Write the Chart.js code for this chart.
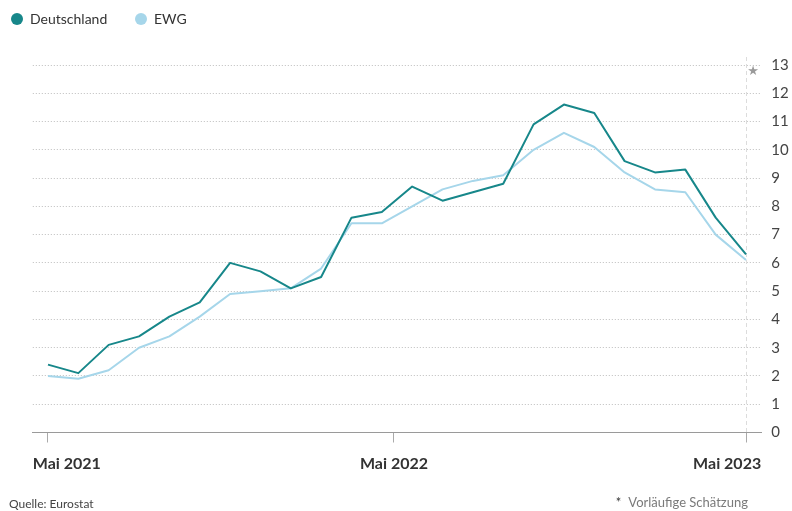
<!DOCTYPE html>
<html><head><meta charset="utf-8">
<script src="https://cdn.jsdelivr.net/npm/chart.js@4/dist/chart.umd.min.js"></script>
<style>
html,body{margin:0;padding:0;background:#fff;}
#wrap{position:relative;width:792px;height:511px;font-family:Lato,"Liberation Sans",sans-serif;overflow:hidden;}
canvas{position:absolute;left:0;top:0;}
.leg{position:absolute;top:12px;height:14px;line-height:14px;font-size:14px;color:#333;display:flex;align-items:center;white-space:nowrap;}
.dot{display:inline-block;width:12px;height:12px;border-radius:50%;margin-right:7px;}
.foot{position:absolute;white-space:nowrap;}
</style></head><body>
<div id="wrap">
<canvas id="c" width="792" height="511"></canvas>
<div id="legend"></div>
<div class="foot" style="left:9px;top:496px;font-size:12px;color:#444;">Quelle: Eurostat</div>
<div class="foot" style="right:44px;top:494px;font-size:13px;color:#7a7a7a;"><span style="margin-right:7px;color:#333">*</span>Vorläufige Schätzung</div>
</div>
<script>
// ---- data ----
const seriesNames = ['Deutschland', 'EWG'];
const deutschland = [2.4,2.1,3.1,3.4,4.1,4.6,6.0,5.7,5.1,5.5,7.6,7.8,8.7,8.2,8.5,8.8,10.9,11.6,11.3,9.6,9.2,9.3,7.6,6.3];
const ewg         = [2.0,1.9,2.2,3.0,3.4,4.1,4.9,5.0,5.1,5.8,7.4,7.4,8.0,8.6,8.9,9.1,10.0,10.6,10.1,9.2,8.6,8.5,7.0,6.1];
const xTickLabels = ['Mai 2021', 'Mai 2022', 'Mai 2023'];
const xTickAt     = [0, 11.4, 23];
const yMin = 0, yMax = 13, yStep = 1;
const colors = ['#17878a', '#a6d6ea'];
const estimateMark = '★';

// ---- legend ----
const legEl = document.getElementById('legend');
const legLeft = [11, 135];
seriesNames.forEach((n, i) => {
  const d = document.createElement('div');
  d.className = 'leg';
  d.style.left = legLeft[i] + 'px';
  d.innerHTML = '<span class="dot" style="background:' + colors[i] + '"></span>' + n;
  legEl.appendChild(d);
});

const toPts = arr => arr.map((v, i) => ({x: i, y: v}));

const overlay = {
  id: 'overlay',
  beforeDatasetsDraw(chart) {
    const {ctx, chartArea, scales} = chart;
    const x = Math.round(scales.x.getPixelForValue(deutschland.length - 1)) + 0.5;
    ctx.save();
    ctx.strokeStyle = '#dcdcdc';
    ctx.lineWidth = 1;
    ctx.setLineDash([4, 3]);
    ctx.beginPath();
    ctx.moveTo(x, chartArea.top - 8);
    ctx.lineTo(x, chartArea.bottom);
    ctx.stroke();
    ctx.restore();
  },
  afterDraw(chart) {
    const {ctx, chartArea, scales} = chart;
    ctx.save();
    ctx.font = 'bold 16px Lato, sans-serif';
    ctx.fillStyle = '#333';
    ctx.textBaseline = 'middle';
    ctx.textAlign = 'left';
    xTickLabels.forEach((t, i) => {
      const c = scales.x.getPixelForValue(xTickAt[i]);
      const w = ctx.measureText(t).width;
      let l = c - w / 2;
      l = Math.max(chartArea.left, Math.min(l, chartArea.right - w));
      ctx.fillText(t, l, 464);
    });
    // estimate marker
    ctx.font = '13px "DejaVu Sans", sans-serif';
    ctx.fillStyle = '#9a9a9a';
    ctx.textBaseline = 'middle';
    ctx.textAlign = 'center';
    ctx.fillText(estimateMark, scales.x.getPixelForValue(deutschland.length - 1) + 7, scales.y.getPixelForValue(yMax) + 7);
    ctx.restore();
  }
};

new Chart(document.getElementById('c'), {
  type: 'line',
  data: {
    datasets: [
      {label: seriesNames[0], data: toPts(deutschland), borderColor: colors[0], borderWidth: 2, order: 1},
      {label: seriesNames[1], data: toPts(ewg), borderColor: colors[1], borderWidth: 2, order: 2}
    ]
  },
  options: {
    responsive: false,
    animation: false,
    devicePixelRatio: 1,
    layout: {padding: {left: 32.8, top: 65, right: 0, bottom: 0}},
    elements: {point: {radius: 0}, line: {tension: 0, borderJoinStyle: 'round', fill: false}},
    plugins: {legend: {display: false}, tooltip: {enabled: false}},
    scales: {
      x: {
        type: 'linear', position: 'bottom', min: -0.5, max: 23.5,
        afterBuildTicks: s => { s.ticks = xTickAt.map(v => ({value: v})); },
        afterFit: s => { s.height = 78.5; },
        ticks: {display: false},
        grid: {drawOnChartArea: false, drawTicks: true, tickLength: 10, tickColor: '#aaa', tickWidth: 1},
        border: {display: true, color: '#9a9a9a', width: 1}
      },
      y: {
        position: 'right', min: yMin, max: yMax,
        afterFit: s => { s.width = 30.8; },
        ticks: {stepSize: yStep, padding: 10, color: '#444', font: {family: 'Lato', size: 15}},
        grid: {drawTicks: false, color: c => c.tick.value === 0 ? 'rgba(0,0,0,0)' : '#bdbdbd', lineWidth: 1},
        border: {display: false, dash: [1, 2]}
      }
    }
  },
  plugins: [overlay]
});
</script>
</body></html>
